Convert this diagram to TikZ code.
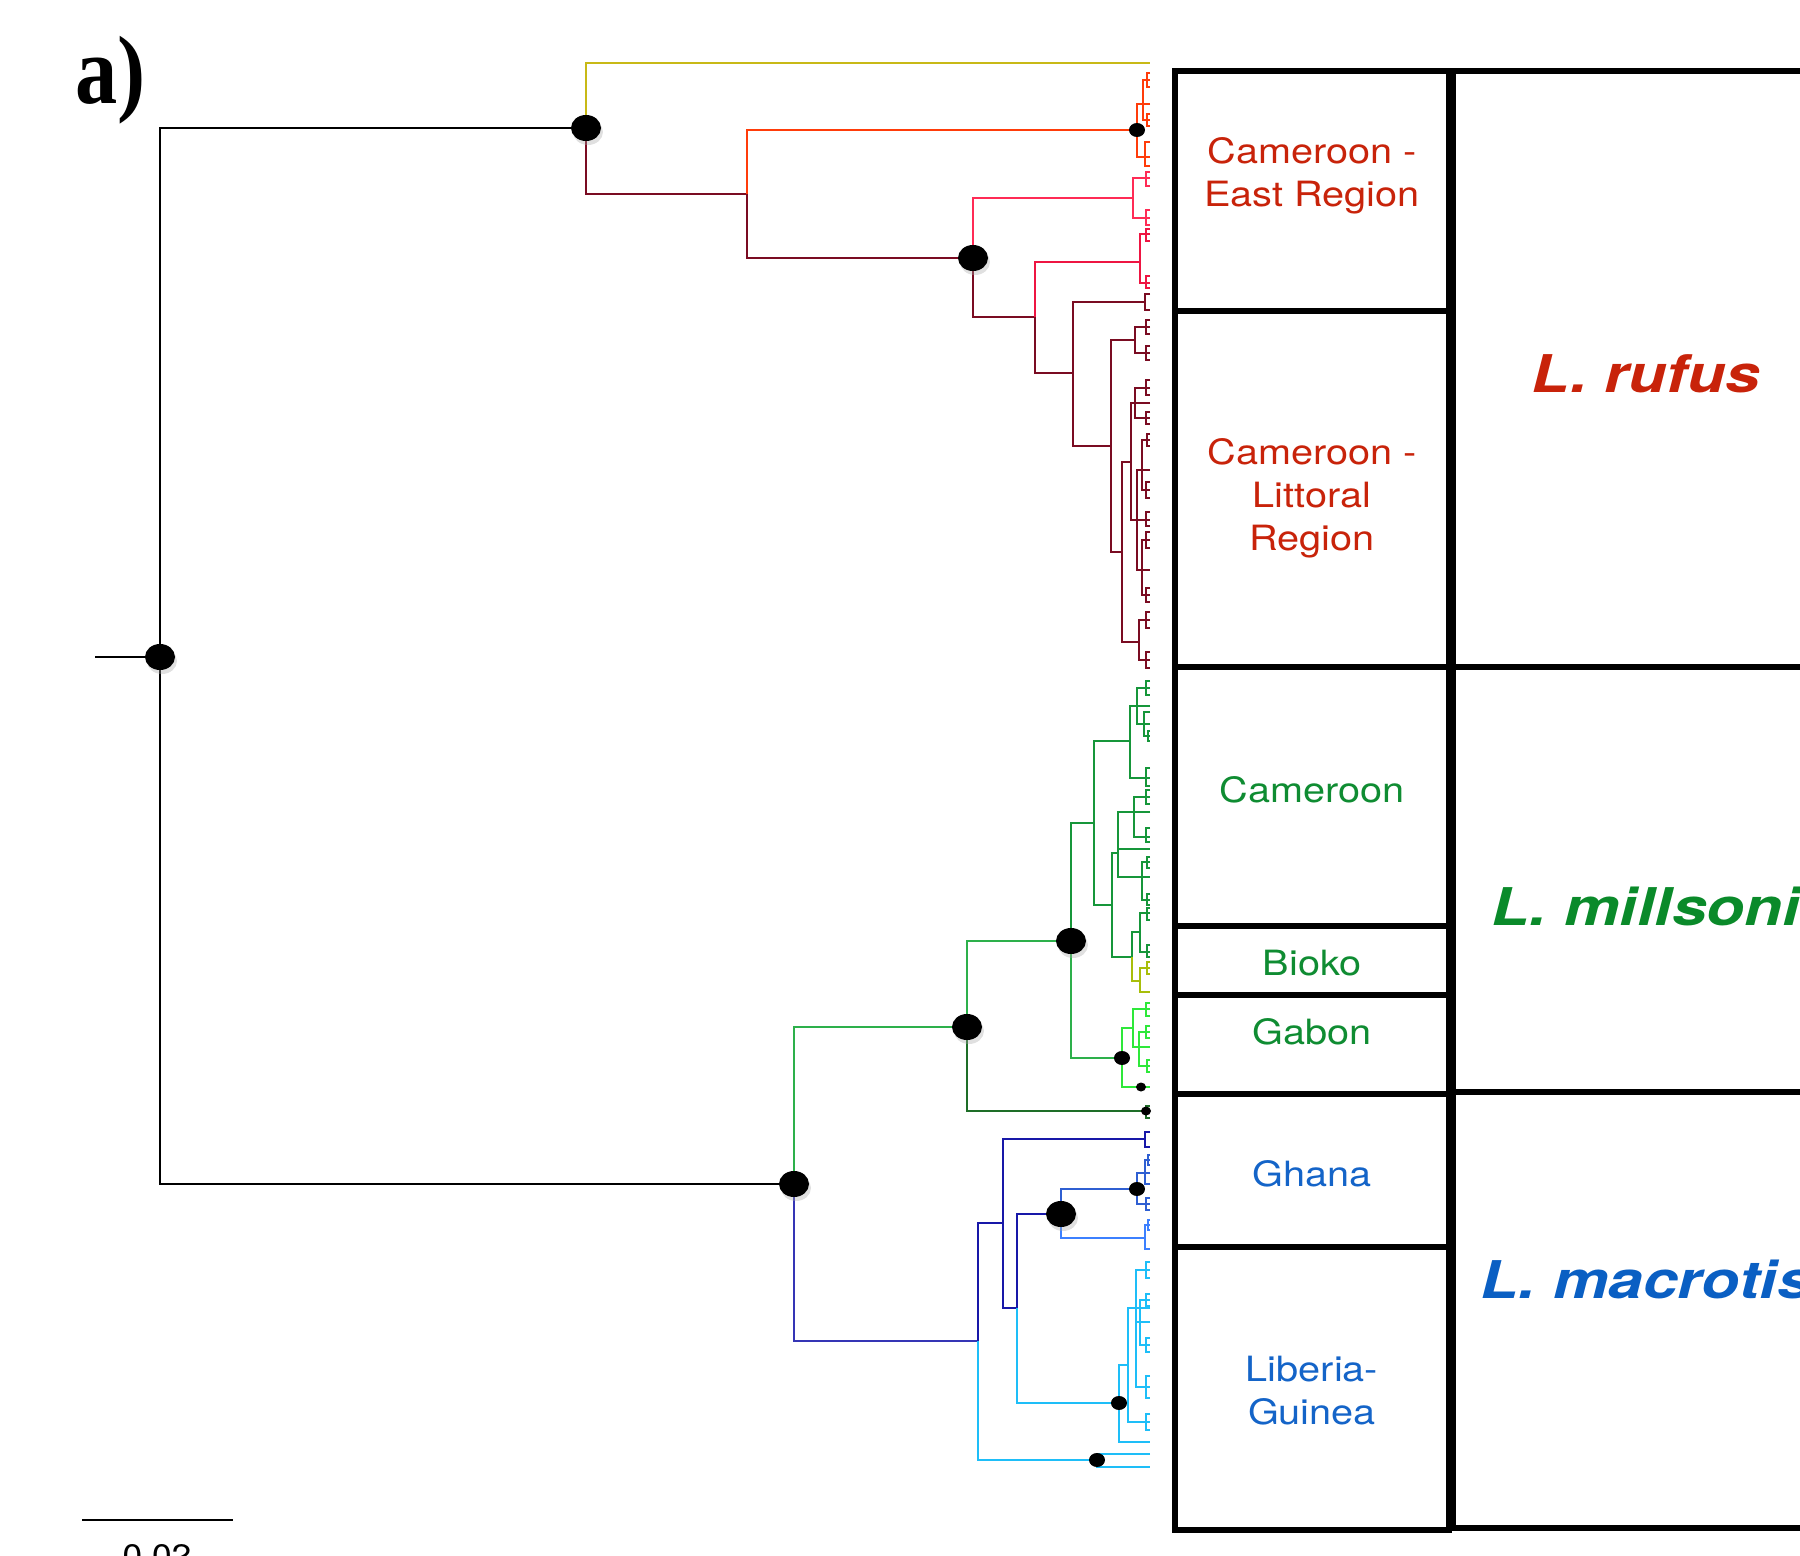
\documentclass[tikz,border=0pt]{standalone}
\usepackage{fontspec}
\setmainfont{TeX Gyre Heros}
\newfontfamily\labfont[FakeStretch=1.14]{TeX Gyre Heros}
\newfontfamily\spfont[FakeStretch=1.2]{TeX Gyre Heros}
\newfontfamily\panfont[FakeStretch=0.87]{Liberation Serif}
\usepackage{tikz}

% branch colours
\definecolor{cyel}{HTML}{C8B916}
\definecolor{corng}{HTML}{FF3C0A}
\definecolor{cpink}{HTML}{FF2B55}
\definecolor{ccrim}{HTML}{EE1542}
\definecolor{cmar}{HTML}{7A0C22}
\definecolor{cgrm}{HTML}{2DB04B}
\definecolor{cgr}{HTML}{16963A}
\definecolor{cgrd}{HTML}{1E6E28}
\definecolor{cbio}{HTML}{A8BE0A}
\definecolor{cbrg}{HTML}{2EE83A}
\definecolor{cblm}{HTML}{3535B5}
\definecolor{cnavy}{HTML}{1818A8}
\definecolor{cblue}{HTML}{2F5FD2}
\definecolor{cblue2}{HTML}{3C80FF}
\definecolor{ccyan}{HTML}{1EBEF8}
% text colours
\definecolor{tred}{HTML}{C8230A}
\definecolor{tgreen}{HTML}{0F8C32}
\definecolor{tblue}{HTML}{1464C8}
\definecolor{sgreen}{HTML}{0A8A2A}
\definecolor{sblue}{HTML}{0A5FC3}

\begin{document}
\begin{tikzpicture}[x=0.5pt,y=-0.5pt,
  br/.style={line width=1.35pt},
  panel/.style={draw,line width=3.2pt},
  reg/.style={font=\labfont\fontsize{17.4}{21.5}\selectfont,align=center},
  spec/.style={font=\spfont\bfseries\itshape\fontsize{26}{30}\selectfont,anchor=base}]
\useasboundingbox (0,0) rectangle (1800,1556);
\clip (0,0) rectangle (1800,1556);

\node[font=\panfont\bfseries\fontsize{48.5}{52}\selectfont,anchor=base west,inner sep=0] (pan) at (75,104) {a)};

% internal nodes of the tree
\coordinate (stub) at (95,657);
\coordinate (r0) at (160,657);
\coordinate (nA) at (586,128);
\coordinate (nB) at (794,1184);
\coordinate (tY) at (1150,63);
\coordinate (nA2) at (747,194);
\coordinate (nOr) at (1137,130);
\coordinate (nA3) at (973,258);
\coordinate (nPk1) at (1133,198);
\coordinate (nA4) at (1035,317);
\coordinate (nPk2) at (1140,262);
\coordinate (nA5) at (1073,373);
\coordinate (nM1) at (1145,302);
\coordinate (nA6) at (1111,446);
\coordinate (nM2) at (1135,340);
\coordinate (nA7) at (1122,552);
\coordinate (nA8) at (1131,462);
\coordinate (nA9) at (1139,642);
\coordinate (nG1) at (967,1027);
\coordinate (nG2) at (1071,941);
\coordinate (tDG) at (1150,1111);
\coordinate (nG3) at (1094,823);
\coordinate (nGb) at (1122,1058);
\coordinate (nGb1) at (1133,1028);
\coordinate (tGb) at (1150,1087);
\coordinate (nG4) at (1130,741);
\coordinate (nG5) at (1112,905);
\coordinate (nG6) at (1118,853);
\coordinate (tG6) at (1150,849);
\coordinate (nG7) at (1132,957);
\coordinate (nG7a) at (1140,932);
\coordinate (nG7b) at (1140,981);
\coordinate (nG8) at (1134,812);
\coordinate (nG9) at (1142,877);
\coordinate (nBl1) at (978,1341);
\coordinate (nLb1) at (1097,1460);
\coordinate (nBl2) at (1003,1223);
\coordinate (tNv) at (1145,1139);
\coordinate (nBl3) at (1017,1308);
\coordinate (nGh) at (1061,1214);
\coordinate (nGh1) at (1137,1189);
\coordinate (nGh2) at (1145,1238);
\coordinate (nLG) at (1119,1403);
\coordinate (nLG1) at (1128,1365);
\coordinate (tLG) at (1150,1442);
\coordinate (dGb) at (1141,1087);
\coordinate (dDG) at (1146,1111);

% tip clades
\foreach \x/\ya/\yb in {1137/104/157,1143/80/120,1147/73/87,1147/114/126,1145/142/166}{\draw[br,corng] (1150,\ya) -| (\x,\yb) -- (1150,\yb);}
\foreach \x/\ya/\yb in {1133/178/218,1146/172/186,1146/210/225}{\draw[br,cpink] (1150,\ya) -| (\x,\yb) -- (1150,\yb);}
\foreach \x/\ya/\yb in {1140/234/283,1146/229/241,1146/276/288}{\draw[br,ccrim] (1150,\ya) -| (\x,\yb) -- (1150,\yb);}
\foreach \x/\ya/\yb in {1145/294/310,1135/327/353,1146/320/334,1146/346/360,1131/403/520,1135/388/418,1146/380/395,1146/412/424,
  1137/470/570,1142/440/490,1147/434/446,1146/482/498,1146/512/526,1142/540/595,1146/532/548,1146/588/602,1139/620/660,1146/612/628,1146/652/668}{\draw[br,cmar] (1150,\ya) -| (\x,\yb) -- (1150,\yb);}
\foreach \x/\ya/\yb in {1130/706/778,1137/688/724,1146/681/695,1144/712/736,1148/731/741,1146/768/786,1118/812/877,
  1134/797/837,1146/790/804,1146/828/842,1142/862/900,1147/857/868,1147/894/905,1140/913/952,1147/908/920,1147/945/957}{\draw[br,cgr] (1150,\ya) -| (\x,\yb) -- (1150,\yb);}
\foreach \x/\ya/\yb in {1140/968/992,1147/962/974}{\draw[br,cbio] (1150,\ya) -| (\x,\yb) -- (1150,\yb);}
\foreach \x/\ya/\yb in {1133/1009/1047,1146/1003/1016,1139/1032/1066,1146/1026/1038,1147/1060/1072}{\draw[br,cbrg] (1150,\ya) -| (\x,\yb) -- (1150,\yb);}
\foreach \x/\ya/\yb in {1146/1106/1118}{\draw[br,cgrd] (1150,\ya) -| (\x,\yb) -- (1150,\yb);}
\foreach \x/\ya/\yb in {1145/1132/1147}{\draw[br,cnavy] (1150,\ya) -| (\x,\yb) -- (1150,\yb);}
\foreach \x/\ya/\yb in {1137/1173/1204,1145/1160/1184,1148/1155/1165,1146/1198/1210}{\draw[br,cblue] (1150,\ya) -| (\x,\yb) -- (1150,\yb);}
\foreach \x/\ya/\yb in {1145/1225/1249,1148/1220/1230}{\draw[br,cblue2] (1150,\ya) -| (\x,\yb) -- (1150,\yb);}
\foreach \x/\ya/\yb in {1128/1308/1422,1136/1270/1387,1146/1262/1278,1146/1376/1398,1136/1322/1322,1140/1300/1345,
  1146/1294/1306,1146/1338/1352,1146/1414/1430,1097/1454/1467}{\draw[br,ccyan] (1150,\ya) -| (\x,\yb) -- (1150,\yb);}

% branches
\draw[br] (stub) -- (r0);
\draw[br] (r0) |- (nA) (r0) |- (nB);
\draw[br,cyel] (nA) |- (tY);
\draw[br,cmar] (nA) |- (nA2);
\draw[br,corng] (nA2) |- (nOr);
\draw[br,cmar] (nA2) |- (nA3);
\draw[br,cpink] (nA3) |- (nPk1);
\draw[br,cmar] (nA3) |- (nA4);
\draw[br,ccrim] (nA4) |- (nPk2);
\draw[br,cmar] (nA4) |- (nA5) (nA5) |- (nM1) (nA5) |- (nA6) (nA6) |- (nM2) (nA6) |- (nA7) (nA7) |- (nA8) (nA7) |- (nA9);
\draw[br,cgrm] (nB) |- (nG1) (nG1) |- (nG2);
\draw[br,cgrd] (nG1) |- (tDG);
\draw[br,cgr] (nG2) |- (nG3);
\draw[br,cgrm] (nG2) |- (nGb);
\draw[br,cbrg] (nGb) |- (nGb1) (nGb) |- (tGb);
\draw[br,cgr] (nG3) |- (nG4) (nG3) |- (nG5) (nG5) |- (nG6) (nG5) |- (nG7) (nG6) |- (nG8) (nG6) |- (nG9) (nG6) |- (tG6) (nG7) |- (nG7a);
\draw[br,cbio] (nG7) |- (nG7b);
\draw[br,cblm] (nB) |- (nBl1);
\draw[br,cnavy] (nBl1) |- (nBl2) (nBl2) |- (tNv) (nBl2) |- (nBl3) (nBl3) |- (nGh);
\draw[br,ccyan] (nBl1) |- (nLb1);
\draw[br,cblue] (nGh) |- (nGh1);
\draw[br,cblue2] (nGh) |- (nGh2);
\draw[br,ccyan] (nBl3) |- (nLG) (nLG) |- (nLG1) (nLG) |- (tLG);

% support dots
\foreach \n in {r0,nA,nA3,nG1,nG2,nB,nGh}{
  \fill[black!35,opacity=.35] ([shift={(2,4)}]\n) ellipse [x radius=15,y radius=13];
  \fill (\n) ellipse [x radius=15,y radius=13];}
\foreach \n in {nOr,nGb,nGh1,nLG,nLb1}{\fill (\n) ellipse [x radius=8,y radius=7];}
\foreach \n in {dGb,dDG}{\fill (\n) ellipse [x radius=5,y radius=4.5];}

% region and species panels
\foreach \ya/\yb in {71/311,311/667,667/926,926/995,995/1094,1094/1247,1247/1530}{\draw[panel] (1175,\ya) rectangle (1449,\yb);}
\foreach \ya/\yb in {71/667,667/1092,1092/1528}{\draw[panel] (1453,\ya) rectangle (1850,\yb);}
\node[reg,text=tred] (lEast) at (1312,176) {Cameroon -\\East Region};
\node[reg,text=tred] (lLit) at (1312,498) {Cameroon -\\Littoral\\Region};
\node[reg,text=tgreen] (lCam) at (1312,790) {Cameroon};
\node[reg,text=tgreen] (lBio) at (1312,963) {Bioko};
\node[reg,text=tgreen] (lGab) at (1312,1032) {Gabon};
\node[reg,text=tblue] (lGha) at (1312,1174) {Ghana};
\node[reg,text=tblue] (lLib) at (1312,1391) {Liberia-\\Guinea};
\node[spec,text=tred] (sRuf) at (1646,393) {L. rufus};
\node[spec,text=sgreen] (sMil) at (1646,925) {L. millsoni};
\node[spec,text=sblue] (sMac) at (1646,1298) {L. macrotis};

% scale bar
\coordinate (sb1) at (82,1520);
\coordinate (sb2) at (233,1520);
\draw[line width=1.35pt] (sb1) -- (sb2);
\node[anchor=base,font=\labfont\fontsize{15.5}{18}\selectfont] (sbLab) at (157,1566) {0.02};
\end{tikzpicture}
\end{document}
